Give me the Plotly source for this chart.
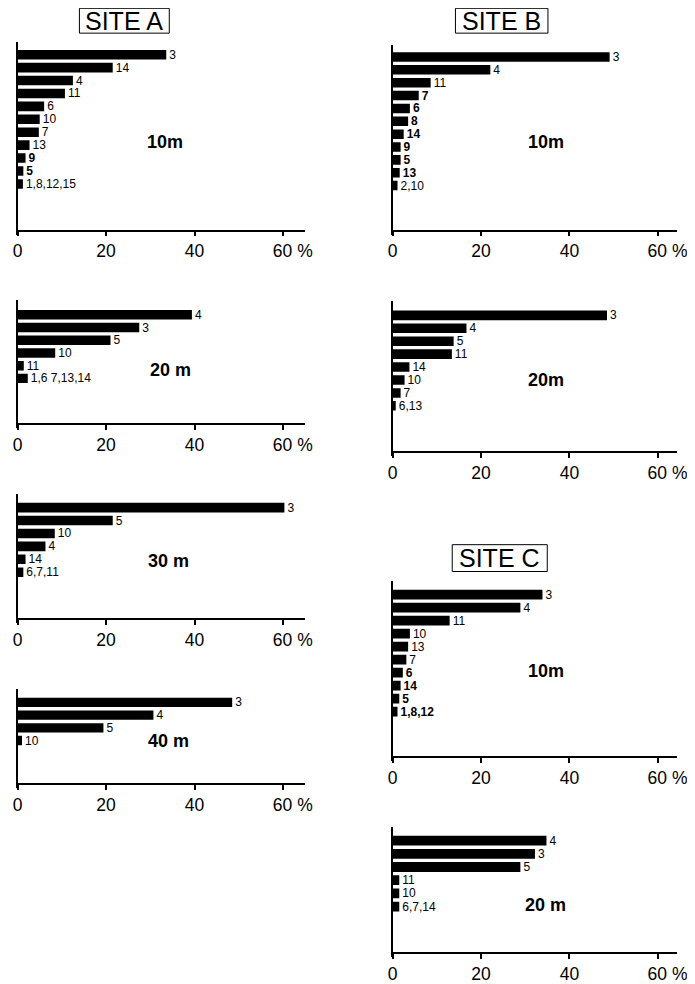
import plotly.graph_objects as go

# ---------------- data ----------------
A10_labels = ["3", "14", "4", "11", "6", "10", "7", "13", "9", "5", "1,8,12,15"]
A10_values = [33.6, 21.5, 12.5, 10.7, 6.0, 5.0, 4.8, 2.7, 1.8, 1.3, 1.2]

A20_labels = ["4", "3", "5", "10", "11", "1,6 7,13,14"]
A20_values = [39.4, 27.5, 21.0, 8.5, 1.4, 2.3]

A30_labels = ["3", "5", "10", "4", "14", "6,7,11"]
A30_values = [60.3, 21.5, 8.4, 6.3, 1.8, 1.3]

A40_labels = ["3", "4", "5", "10"]
A40_values = [48.5, 30.7, 19.4, 1.0]

B10_labels = ["3", "4", "11", "7", "6", "8", "14", "9", "5", "13", "2,10"]
B10_values = [49.1, 22.1, 8.6, 5.9, 3.9, 3.5, 2.5, 1.8, 1.8, 1.6, 1.1]

B20_labels = ["3", "4", "5", "11", "14", "10", "7", "6,13"]
B20_values = [48.5, 16.7, 13.8, 13.4, 3.8, 2.7, 1.8, 0.7]

C10_labels = ["3", "4", "11", "10", "13", "7", "6", "14", "5", "1,8,12"]
C10_values = [33.9, 28.9, 12.9, 3.9, 3.5, 3.1, 2.3, 1.8, 1.5, 1.1]

C20_labels = ["4", "3", "5", "11", "10", "6,7,14"]
C20_values = [34.8, 32.2, 28.9, 1.5, 1.5, 1.5]

depth_labels = ["10m", "20 m", "30 m", "40 m", "10m", "20m", "10m", "20 m"]
site_titles = ["SITE A", "SITE B", "SITE C"]
tick_values = [0, 20, 40, 60]
tick_labels = ["0", "20", "40", "\u00a0\u00a0\u00a0\u00a060 %"]

series = [
    (A10_labels, A10_values), (A20_labels, A20_values),
    (A30_labels, A30_values), (A40_labels, A40_values),
    (B10_labels, B10_values), (B20_labels, B20_values),
    (C10_labels, C10_values), (C20_labels, C20_values),
]

# ---------------- layout geometry (page pixels) ----------------
OFF = 8                  # default page margin around the figure
FW, FH = 695 - OFF, 984 - OFF
FONT = "Liberation Sans, Arial, sans-serif"


def px(X):
    return (X - OFF) / FW


def py(Y):
    return 1 - (Y - OFF) / FH


colA = dict(x0=12.7, ppu=4.53, xmax=65)
colB = dict(x0=396.7, ppu=4.525, xmax=64.3)
panels = [
    dict(col=colA, top=42, first=55, step=13.0, bottom=232, dx=164, dy=143),
    dict(col=colA, top=302, first=316.7, step=12.8, bottom=427, dx=169, dy=372.7),
    dict(col=colA, top=497, first=510.7, step=13.0, bottom=622.7, dx=167.5, dy=564),
    dict(col=colA, top=693, first=706.7, step=12.8, bottom=789, dx=167.5, dy=746),
    dict(col=colB, top=45, first=57.3, step=12.94, bottom=232, dx=553.7, dy=143.3),
    dict(col=colB, top=303.3, first=317.3, step=13.0, bottom=455, dx=554, dy=382.7),
    dict(col=colB, top=585, first=598.3, step=13.08, bottom=761.7, dx=554, dy=675),
    dict(col=colB, top=831.7, first=845.7, step=13.3, bottom=959.3, dx=553, dy=910.7),
]
bold_labels = [
    {"9", "5"}, set(), set(), set(),
    {"7", "6", "8", "14", "9", "5", "13"}, set(),
    {"6", "14", "5", "1,8,12"}, set(),
]
title_boxes = [  # x0, x1, y0, y1 in page px
    (76, 168, 8.3, 33.3),
    (461, 555.7, 8.3, 33.3),
    (457.7, 555, 548, 575),
]
EXT = 4  # y axis line runs a little past the x axis

fig = go.Figure()
layout = dict(
    width=FW, height=FH, margin=dict(l=0, r=0, t=0, b=0),
    paper_bgcolor="white", plot_bgcolor="white", showlegend=False,
    font=dict(family=FONT, color="black"),
)
annotations = []
shapes = []

for i, ((labels, values), p) in enumerate(zip(series, panels)):
    n = i + 1
    xa = "x" if n == 1 else f"x{n}"
    ya = "y" if n == 1 else f"y{n}"
    col = p["col"]
    texts = [f"<b>{l}</b>" if l in bold_labels[i] else l for l in labels]
    fig.add_trace(go.Bar(
        x=values, y=labels, orientation="h", xaxis=xa, yaxis=ya,
        marker=dict(color="black", line=dict(width=0)), width=0.74,
        text=texts, textposition="outside", cliponaxis=False,
        constraintext="none", textfont=dict(size=12, color="black", family=FONT),
        hoverinfo="skip",
    ))
    ybot = p["bottom"] + EXT
    r_bot = (ybot - p["first"]) / p["step"]
    r_top = (p["top"] - p["first"]) / p["step"]
    kx = "xaxis" if n == 1 else f"xaxis{n}"
    ky = "yaxis" if n == 1 else f"yaxis{n}"
    layout[kx] = dict(
        domain=[px(col["x0"]), px(col["x0"] + col["xmax"] * col["ppu"])],
        range=[0, col["xmax"]], anchor="free", position=py(p["bottom"]),
        showline=True, linecolor="black", linewidth=1.5,
        ticks="outside", ticklen=5, tickwidth=1.5, tickcolor="black",
        tickvals=tick_values, ticktext=tick_labels,
        tickfont=dict(size=17.5, color="black", family=FONT),
        showgrid=False, zeroline=False, fixedrange=True,
    )
    layout[ky] = dict(
        domain=[py(ybot), py(p["top"])], anchor=xa, type="category",
        categoryorder="array", categoryarray=labels,
        range=[r_bot, r_top], showline=True, linecolor="black", linewidth=2,
        showticklabels=False, ticks="", showgrid=False, zeroline=False,
        fixedrange=True,
    )
    annotations.append(dict(
        text=f"<b>{depth_labels[i]}</b>", xref="paper", yref="paper",
        x=px(p["dx"]), y=py(p["dy"]), xanchor="center", yanchor="middle",
        showarrow=False, font=dict(size=18, color="black", family=FONT),
    ))

for t, (x0, x1, y0, y1) in zip(site_titles, title_boxes):
    shapes.append(dict(
        type="rect", xref="paper", yref="paper",
        x0=px(x0), x1=px(x1), y0=py(y1), y1=py(y0),
        line=dict(color="black", width=1),
    ))
    annotations.append(dict(
        text=t, xref="paper", yref="paper",
        x=px((x0 + x1) / 2), y=py((y0 + y1) / 2),
        xanchor="center", yanchor="middle", showarrow=False,
        font=dict(size=25, color="black", family=FONT),
    ))

layout["annotations"] = annotations
layout["shapes"] = shapes
fig.update_layout(**layout)
fig.write_html("out.html", config={"displayModeBar": False})
